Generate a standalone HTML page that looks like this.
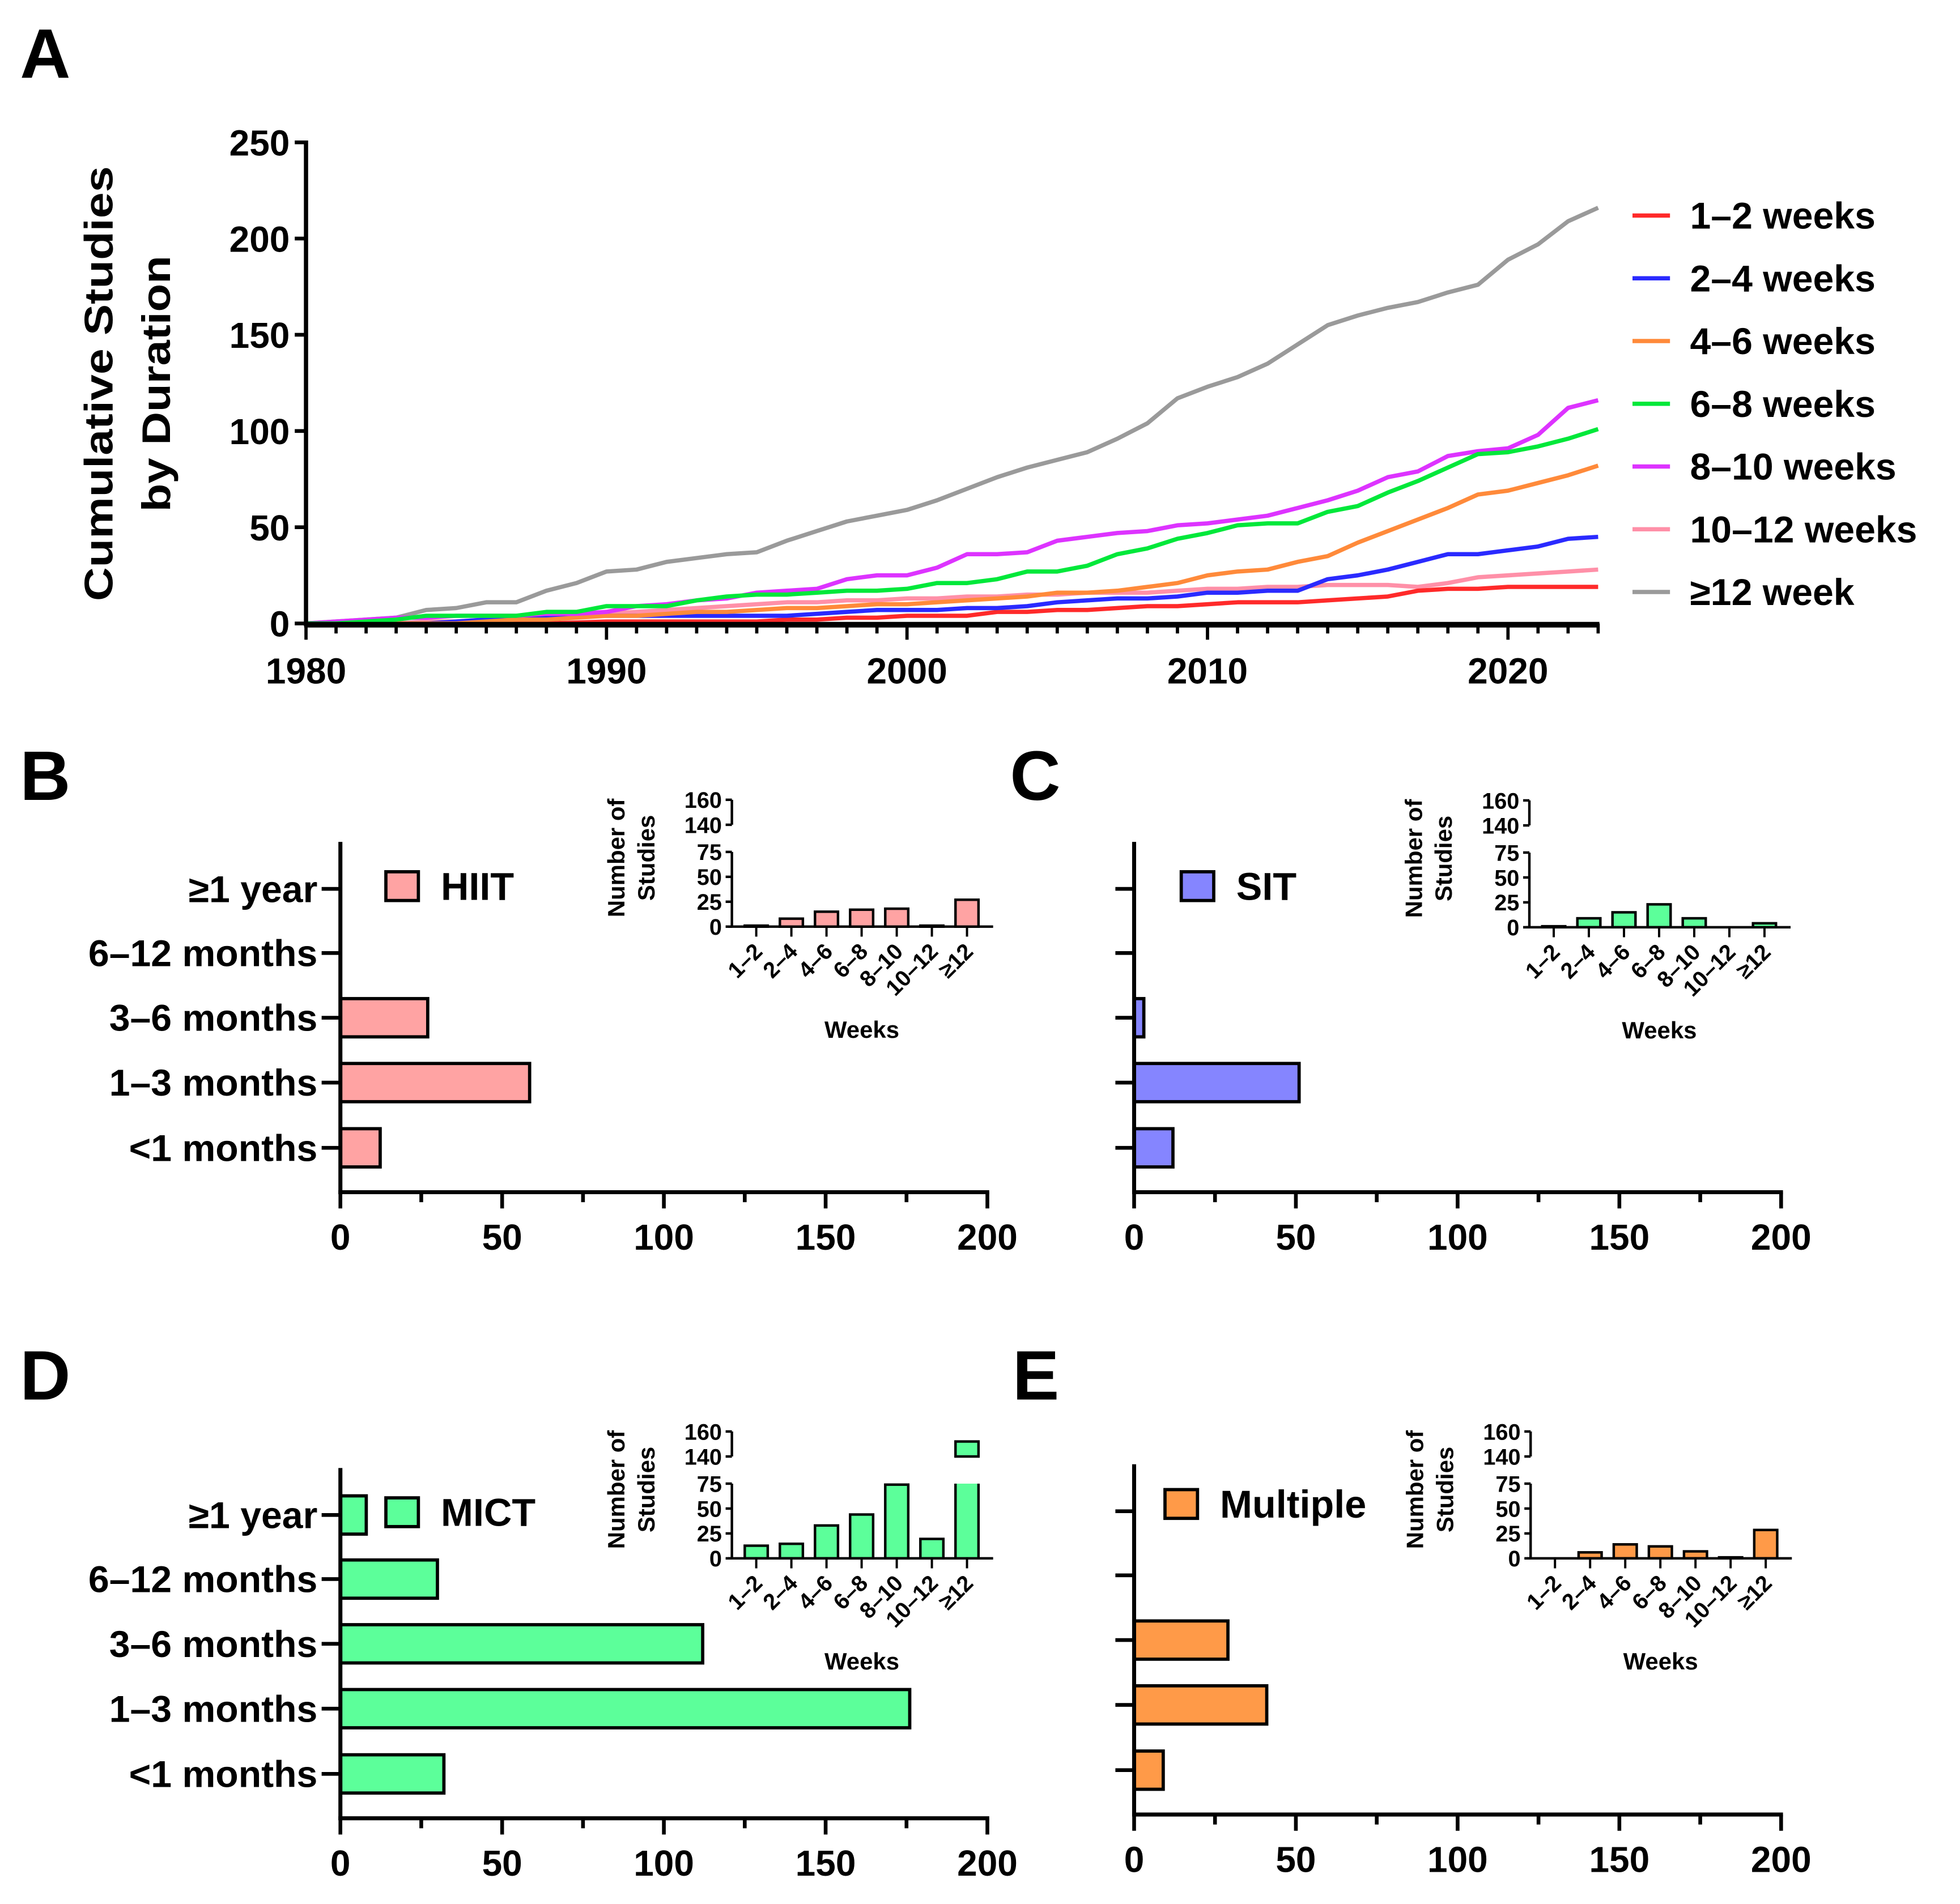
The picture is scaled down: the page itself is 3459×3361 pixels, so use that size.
<!DOCTYPE html>
<html><head><meta charset="utf-8"><style>
html,body{margin:0;padding:0;background:#fff}
svg{display:block}
text{font-family:"Liberation Sans",Arial,sans-serif;font-weight:bold;fill:#000}
</style></head><body>
<svg id="fig" xmlns="http://www.w3.org/2000/svg" width="3459" height="3361" viewBox="0 0 1568 1523.6">
<text x="16" y="62" font-size="56">A</text>
<text x="16" y="640" font-size="56">B</text>
<text x="808" y="640" font-size="56">C</text>
<text x="16" y="1120" font-size="56">D</text>
<text x="810" y="1120" font-size="56">E</text>
<text transform="translate(90,307) rotate(-90)" text-anchor="middle" font-size="32" textLength="348" lengthAdjust="spacingAndGlyphs">Cumulative Studies</text>
<text transform="translate(136,307) rotate(-90)" text-anchor="middle" font-size="32" textLength="205" lengthAdjust="spacingAndGlyphs">by Duration</text>
<g id="gA"></g>
<g id="gBars"></g>
</svg>
<script>
// Panel A data
const years = [];
for (let y = 1980; y <= 2023; y++) years.push(y);
const seriesNames = ["1–2 weeks","2–4 weeks","4–6 weeks","6–8 weeks","8–10 weeks","10–12 weeks","≥12 week"];
const seriesColors = ["#ff2a2a","#2a2aff","#ff8a3a","#00e83a","#dd33ff","#ff90a8","#9a9a9a"];
const s12 = [0,1,2,3,7,8,11,11,17,21,27,28,32,34,36,37,43,48,53,56,59,64,70,76,81,85,89,96,104,117,123,128,135,145,155,160,164,167,172,176,189,197,209,216];
const s8_10 = [0,1,2,3,3,4,4,4,5,5,6,9,10,12,13,16,17,18,23,25,25,29,36,36,37,43,45,47,48,51,52,54,56,60,64,69,76,79,87,89.5,91,98,112,116];
const s6_8 = [0,0,1,2,4,4,4,4,6,6,9,9,9,12,14,15,15,16,17,17,18,21,21,23,27,27,30,36,39,44,47,51,52,52,58,61,68,74,81,88,89,92,96,101];
const s4_6 = [0,0,0,0,0,0,1,2,2,3,4,4,5,6,6,7,8,8,9,10,10,11,12,13,14,16,16,17,19,21,25,27,28,32,35,42,48,54,60,67,69,73,77,82];
const s2_4 = [0,0,0,0,0,1,2,3,4,4,4,4,4,4,4,4,4,5,6,7,7,7,8,8,9,11,12,13,13,14,16,16,17,17,23,25,28,32,36,36,38,40,44,45];
const s10_12 = [0,0,0,0,1,1,2,3,4,4,5,6,7,8,9,10,11,11,12,12,13,13,14,14,15,15,16,16,16,17,18,18,19,19,20,20,20,19,21,24,25,26,27,28];
const s1_2 = [0,0,0,0,0,0,0,0,0,0.5,1,1,1,1,1,1,2,2,3,3,4,4,4,6,6,7,7,8,9,9,10,11,11,11,12,13,14,17,18,18,19,19,19,19];
const yTicksA = [0,50,100,150,200,250];
const xTickLabelsA = [1980,1990,2000,2010,2020];

// Bar panels data
const categories = ["≥1 year","6–12 months","3–6 months","1–3 months","<1 months"];
const hiitValues = [0,0,27,58.5,12.3];
const sitValues = [0,0,3,51,12];
const mictValues = [8,30,112,176,32];
const multipleValues = [0,0,29,41,9];
const barTicks = [0,50,100,150,200];
const weekCats = ["1–2","2–4","4–6","6–8","8–10","10–12","≥12"];
const hiitWeeks = [1,8,15,17,18,1,27];
const sitWeeks = [1,9,15,23,9,0,4];
const mictWeeks = [12.7,14.6,33,44,74,19.5,152];
const multipleWeeks = [0,6,14,12,7,1,28.5];
const insetLowTicks = [0,25,50,75];
const insetHighTicks = [140,160];

const NS = "http://www.w3.org/2000/svg";
function mk(tag, attrs, parent, txt) {
  const e = document.createElementNS(NS, tag);
  for (const k in attrs) e.setAttribute(k, attrs[k]);
  if (txt !== undefined) e.textContent = txt;
  parent.appendChild(e);
  return e;
}

// ---------- Panel A ----------
const gA = document.getElementById('gA');
const AX0 = 244.8, AY0 = 498.9, AX_PER = 24.04, AY_PER = 1.54;
const xA = y => AX0 + (y - 1980) * AX_PER;
const yA = v => AY0 - v * AY_PER;
const seriesData = [s1_2, s2_4, s4_6, s6_8, s8_10, s10_12, s12];
const drawOrder = [6, 5, 0, 1, 2, 4, 3];
drawOrder.forEach(i => {
  const pts = seriesData[i].map((v, j) => xA(years[j]).toFixed(2) + "," + yA(v).toFixed(2)).join(" ");
  const pl = mk('polyline', {points: pts, fill: 'none', stroke: seriesColors[i], 'stroke-width': 3.4, 'stroke-linejoin': 'round'}, gA);
  
  
});
const ayl = mk('line', {x1: AX0, y1: yA(250) - 1.5, x2: AX0, y2: AY0 + 2, stroke: '#000', 'stroke-width': 3.4}, gA);


const axl = mk('line', {x1: AX0 - 1.5, y1: AY0 + 1, x2: xA(2023) + 1, y2: AY0 + 1, stroke: '#000', 'stroke-width': 4.5}, gA);


yTicksA.forEach(v => {
  const t = mk('line', {x1: AX0 - 9, y1: yA(v), x2: AX0, y2: yA(v), stroke: '#000', 'stroke-width': 3}, gA);
  
  
  const l = mk('text', {x: AX0 - 13, y: yA(v) + 10.5, 'text-anchor': 'end', 'font-size': 29}, gA, String(v));
  
  
});
years.forEach(y => {
  const major = xTickLabelsA.indexOf(y) >= 0;
  const t = mk('line', {x1: xA(y), y1: AY0, x2: xA(y), y2: AY0 + (major ? 13 : 8), stroke: '#000', 'stroke-width': 2.6}, gA);
  
  
});
xTickLabelsA.forEach(y => {
  const l = mk('text', {x: xA(y), y: 547, 'text-anchor': 'middle', 'font-size': 29}, gA, String(y));
  
  
});
seriesNames.forEach((n, i) => {
  const ly = 172.5 + i * 50.2;
  const g = mk('g', {}, gA);
  
  
  const ln = mk('line', {x1: 1306, y1: ly, x2: 1336, y2: ly, stroke: seriesColors[i], 'stroke-width': 3.4}, g);
  
  
  const tx = mk('text', {x: 1352, y: ly + 10.5, 'font-size': 30}, g, n);
  
  
});

// ---------- Bar panels ----------
const gB = document.getElementById('gBars');
const panels = [
  {key: 'hiit', name: 'HIIT', vals: hiitValues, wk: hiitWeeks, fill: '#ffa3a3', wfill: '#ffa3a3', dx: 0, dy: 0, lx: 308.7, ly: 697.6, ix: 585.5, iy: 741.5, showCats: true},
  {key: 'sit', name: 'SIT', vals: sitValues, wk: sitWeeks, fill: '#8585ff', wfill: '#5cff9a', dx: 635, dy: 0, lx: 945, ly: 697.6, ix: 1223.5, iy: 742, showCats: false},
  {key: 'mict', name: 'MICT', vals: mictValues, wk: mictWeeks, fill: '#5cff9a', wfill: '#5cff9a', dx: 0, dy: 501, lx: 308.7, ly: 1198.6, ix: 585.5, iy: 1247, showCats: true},
  {key: 'multiple', name: 'Multiple', vals: multipleValues, wk: multipleWeeks, fill: '#ff9a48', wfill: '#ff9a48', dx: 635, dy: 498, lx: 932, ly: 1192, ix: 1224.5, iy: 1247, showCats: false}
];
const rowY0 = [711.3, 762.6, 814.4, 866.3, 918.5];
panels.forEach(p => {
  const g = mk('g', {}, gB);
  
  
  const ax = 272.3 + p.dx, axisY = 954 + p.dy, topY = 673.7 + p.dy;
  const xs = v => ax + v * 2.588;
  const rowY = i => rowY0[i] + p.dy;
  p.vals.forEach((v, i) => {
    if (v <= 0) return;
    const r = mk('rect', {x: ax, y: rowY(i) - 15.3, width: xs(v) - ax, height: 30.6, fill: p.fill, stroke: '#000', 'stroke-width': 2.6}, g);
    
    
  });
  const ya = mk('line', {x1: ax, y1: topY, x2: ax, y2: axisY + 1.5, stroke: '#000', 'stroke-width': 3.2}, g);
  
  
  categories.forEach((c, i) => {
    const t = mk('line', {x1: ax - 15, y1: rowY(i), x2: ax, y2: rowY(i), stroke: '#000', 'stroke-width': 3}, g);
    
    
    if (p.showCats) {
      const l = mk('text', {x: 254, y: rowY(i) + 10.5, 'text-anchor': 'end', 'font-size': 30}, g, c);
      
      
    }
  });
  const xa = mk('line', {x1: ax - 1.6, y1: axisY, x2: xs(200) + 1.5, y2: axisY, stroke: '#000', 'stroke-width': 3.2}, g);
  
  
  for (let v = 0; v <= 200; v += 25) {
    const major = barTicks.indexOf(v) >= 0;
    const t = mk('line', {x1: xs(v), y1: axisY, x2: xs(v), y2: axisY + (major ? 13 : 8), stroke: '#000', 'stroke-width': 3}, g);
    
    
  }
  barTicks.forEach(v => {
    const l = mk('text', {x: xs(v), y: axisY + 46, 'text-anchor': 'middle', 'font-size': 29}, g, String(v));
    
    
  });
  const lg = mk('g', {}, g);
  
  
  const lb = mk('rect', {x: p.lx, y: p.ly, width: 26, height: 23, fill: p.fill, stroke: '#000', 'stroke-width': 2.6}, lg);
  
  
  const lt = mk('text', {x: p.lx + 44, y: p.ly + 22.5, 'font-size': 31}, lg, p.name);
  
  

  // inset
  const ig = mk('g', {}, g);
  
  
  const bx = p.ix, by = p.iy;
  const yLow = v => by - Math.min(v, 75) * 0.797;
  const yHigh = v => (by - 81.5) - (v - 140) * 1.0;
  const xc = i => bx + 19.5 + i * 28.1;
  p.wk.forEach((v, i) => {
    const x0 = xc(i) - 9.2, w = 18.4;
    if (v > 75) {
      const r1 = mk('rect', {x: x0, y: yLow(75), width: w, height: by - yLow(75), fill: p.wfill}, ig);
      
      
      const sides = mk('path', {d: `M${x0},${yLow(75)} V${by} M${x0 + w},${yLow(75)} V${by}`, stroke: '#000', 'stroke-width': 2, fill: 'none'}, ig);
      
      
      const top = Math.min(v, 160);
      const r2 = mk('rect', {x: x0, y: yHigh(top), width: w, height: yHigh(140) - yHigh(top), fill: p.wfill, stroke: '#000', 'stroke-width': 2}, ig);
      
      
    } else if (v > 0) {
      const h = Math.max(by - yLow(v), 0.5);
      const r = mk('rect', {x: x0, y: by - h, width: w, height: h, fill: p.wfill, stroke: '#000', 'stroke-width': 2}, ig);
      
      
    }
  });
  const il = mk('path', {d: `M${bx},${yLow(75)} V${by} M${bx - 3},${by} H${bx + 209}`, stroke: '#000', 'stroke-width': 2, fill: 'none'}, ig);
  
  
  const iu = mk('path', {d: `M${bx},${yHigh(140)} V${yHigh(160)}`, stroke: '#000', 'stroke-width': 2, fill: 'none'}, ig);
  
  
  insetLowTicks.forEach(v => {
    const t = mk('line', {x1: bx - 5, y1: yLow(v), x2: bx, y2: yLow(v), stroke: '#000', 'stroke-width': 2}, ig);
    
    
    const l = mk('text', {x: bx - 8, y: yLow(v) + 6.5, 'text-anchor': 'end', 'font-size': 18}, ig, String(v));
    
    
  });
  insetHighTicks.forEach(v => {
    const t = mk('line', {x1: bx - 5, y1: yHigh(v), x2: bx, y2: yHigh(v), stroke: '#000', 'stroke-width': 2}, ig);
    
    
    const l = mk('text', {x: bx - 8, y: yHigh(v) + 6.5, 'text-anchor': 'end', 'font-size': 18}, ig, String(v));
    
    
  });
  weekCats.forEach((c, i) => {
    const t = mk('line', {x1: xc(i), y1: by, x2: xc(i), y2: by + 8, stroke: '#000', 'stroke-width': 1.8}, ig);
    
    
    const l = mk('text', {transform: `translate(${xc(i) + 6},${by + 21}) rotate(-45)`, 'text-anchor': 'end', 'font-size': 18}, ig, c);
    
    
  });
  const wt = mk('text', {x: bx + 104, y: by + 89, 'text-anchor': 'middle', 'font-size': 19}, ig, 'Weeks');
  
  
  const t1 = mk('text', {transform: `translate(${bx - 86},${by - 55}) rotate(-90)`, 'text-anchor': 'middle', 'font-size': 19}, ig, 'Number of');
  
  
  const t2 = mk('text', {transform: `translate(${bx - 62},${by - 55}) rotate(-90)`, 'text-anchor': 'middle', 'font-size': 19}, ig, 'Studies');
  
  
});
</script>
</body></html>
